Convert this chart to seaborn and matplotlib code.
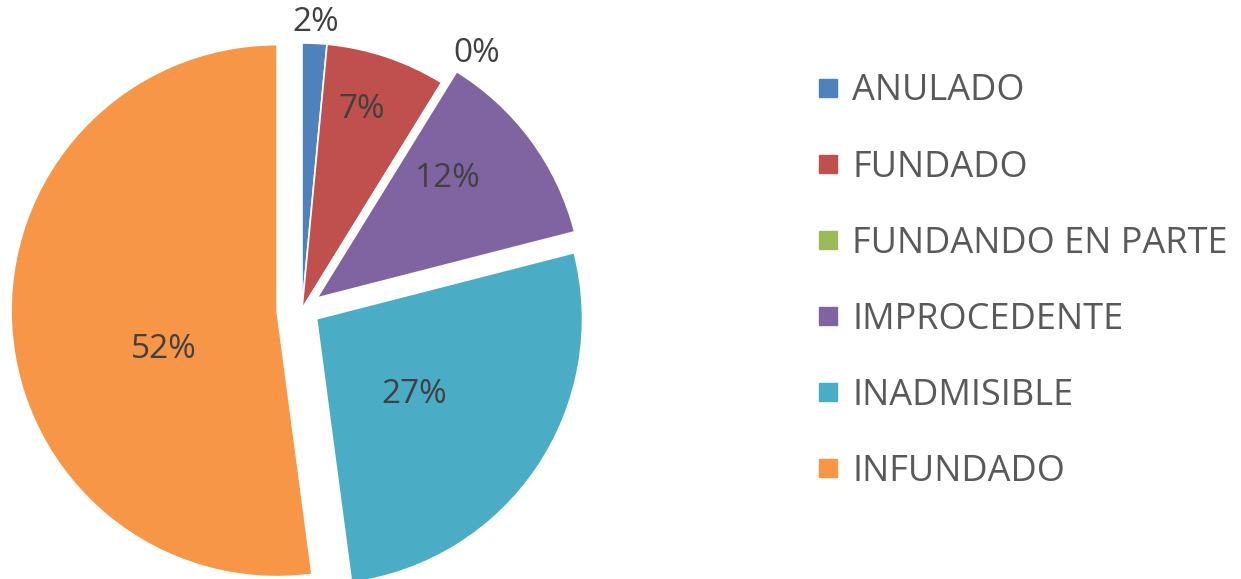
import numpy as np
import matplotlib
matplotlib.use("Agg")
import matplotlib.pyplot as plt
import seaborn as sns
from matplotlib.lines import Line2D

# --- data ---
categories = ['ANULADO', 'FUNDADO', 'FUNDANDO EN PARTE', 'IMPROCEDENTE', 'INADMISIBLE', 'INFUNDADO']
shares = [1.5, 7.3, 0.0, 12.2, 26.9, 52.1]
colors = ['#4F81BD', '#C0504D', '#9BBB59', '#8064A2', '#4BACC6', '#F79646']

sns.set_theme(style='white')
plt.rcParams['font.family'] = ['Open Sans', 'DejaVu Sans']

W, H = 1241, 579
fig = plt.figure(figsize=(W / 100, H / 100), dpi=100)

# pie axes: 1 data unit = 266 px, pie center at (302, 309) px from top-left
R = 266
lim = 1.25
side = 2 * lim * R
cx, cy = 302, H - 309
ax = fig.add_axes([(cx - side / 2) / W, (cy - side / 2) / H, side / W, side / H])

# only the lower slices are pulled out
explode = [0.0, 0.0, 0.0, 0.07, 0.066, 0.094]
wedges, texts = ax.pie(shares, colors=colors, startangle=90, counterclock=False,
                       explode=explode,
                       wedgeprops=dict(linewidth=1.2, edgecolor='white'))
ax.set_xlim(-lim, lim)
ax.set_ylim(-lim, lim)
ax.set_aspect('equal')
ax.axis('off')

# data labels (Excel "best fit": inside for big slices, outside for tiny ones)
label_r = [1.08, 0.785, 1.166, 0.665, 0.464, 0.45]
label_shift = [0, -1.8, 2.7, -6, 3.8, -15]  # clockwise degrees from slice middle
for i, w in enumerate(wedges):
    mid = np.deg2rad((w.theta1 + w.theta2) / 2)
    pos = np.deg2rad((w.theta1 + w.theta2) / 2 - label_shift[i])
    x = explode[i] * np.cos(mid) + label_r[i] * np.cos(pos)
    y = explode[i] * np.sin(mid) + label_r[i] * np.sin(pos)
    ax.text(x, y, f"{shares[i]:.0f}%", ha='center', va='center',
            fontsize=24, color='#404040')

# legend
handles = [Line2D([], [], marker='s', linestyle='none', markersize=13.5,
                  markerfacecolor=c, markeredgecolor=c) for c in colors]
fig.legend(handles, categories, loc='upper left', bbox_to_anchor=(817 / W, 1 - 73.5 / H),
           frameon=False, fontsize=26, labelcolor='#595959', labelspacing=1.11,
           handletextpad=0.37, handlelength=0.6, borderpad=0, borderaxespad=0)

fig.savefig('out.png', dpi=100)
